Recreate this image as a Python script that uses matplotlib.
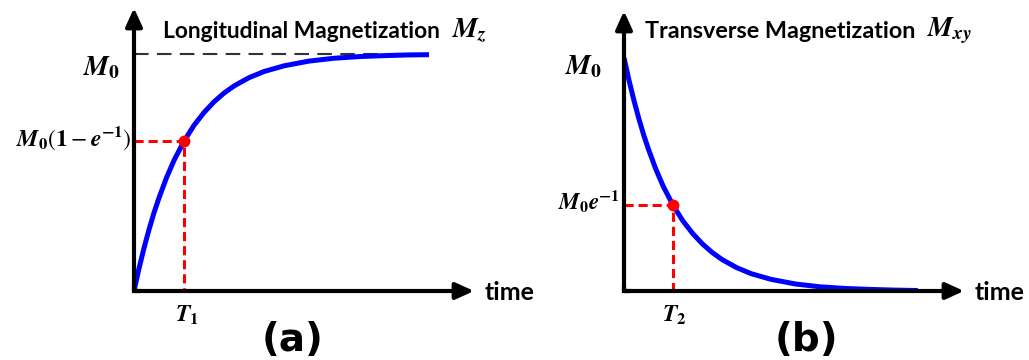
import matplotlib
matplotlib.use('Agg')
import matplotlib.pyplot as plt

plt.rcParams['mathtext.fontset'] = 'stix'
plt.rcParams['font.family'] = ['Lato', 'DejaVu Sans']

# sampled curves, time in units of T1 / T2, magnetization in units of M0
t_long = [0, 0.1, 0.2, 0.3, 0.4, 0.5, 0.65, 0.8, 1.0, 1.2, 1.4, 1.6, 1.8,
          2.0, 2.3, 2.6, 3.0, 3.5, 4.0, 4.5, 5.0, 5.5, 5.9]
m_long = [0, 0.095, 0.181, 0.259, 0.330, 0.393, 0.478, 0.551, 0.632, 0.699,
          0.753, 0.798, 0.835, 0.865, 0.900, 0.926, 0.950, 0.970, 0.982,
          0.989, 0.993, 0.996, 0.997]

t_trans = [0, 0.1, 0.2, 0.3, 0.4, 0.5, 0.65, 0.8, 1.0, 1.2, 1.4, 1.6, 1.8,
           2.0, 2.3, 2.6, 3.0, 3.5, 4.0, 4.5, 5.0, 5.5, 6.0]
m_trans = [1.0, 0.905, 0.819, 0.741, 0.670, 0.607, 0.522, 0.449, 0.368,
           0.301, 0.247, 0.202, 0.165, 0.135, 0.100, 0.074, 0.050, 0.030,
           0.018, 0.011, 0.007, 0.004, 0.002]

T1, M_T1 = 1.0, 0.632
T2, M_T2 = 1.0, 0.368
M0 = 1.0

W, H = 1029, 360
fig = plt.figure(figsize=(W / 100, H / 100), dpi=100)


def px_axes(x0, y0, x1, y1):
    # axes box given in pixels (left, top, right, bottom)
    return fig.add_axes([x0 / W, 1 - y1 / H, (x1 - x0) / W, (y1 - y0) / H])


def ftext(x, y, s, **kw):
    fig.text(x / W, 1 - y / H, s, **kw)


def pt(px):
    return px * 0.72


def draw_axes(ax):
    ax.set_axis_off()
    ax.plot([0, 0, 0.02], [0.02, 0, 0], transform=ax.transAxes, color='black',
            lw=3, solid_joinstyle='miter', solid_capstyle='butt', clip_on=False)
    style = '-|>,head_length=0.55,head_width=0.25'
    for tip in [(1, 0), (0, 1)]:
        ax.annotate('', xy=tip, xytext=(0, 0), xycoords='axes fraction',
                    textcoords='axes fraction', annotation_clip=False,
                    arrowprops=dict(arrowstyle=style, color='black', lw=3,
                                    mutation_scale=20, shrinkA=0, shrinkB=0))


def label(ax, xy, s, dx, dy, size, ha='right'):
    ax.annotate(s, xy=xy, xytext=(pt(dx), pt(dy)), textcoords='offset points',
                ha=ha, va='center', fontsize=size, annotation_clip=False)


# (a) longitudinal relaxation
ax1 = px_axes(134, 8, 474, 291)
ax1.set_xlim(0, 6.8)
ax1.set_ylim(0, 1.194)
draw_axes(ax1)
ax1.plot([0, t_long[-1]], [M0, M0], color='#333333', lw=1.5, dashes=(7, 4))
ax1.plot(t_long, m_long, color='#0000ff', lw=3.6, solid_capstyle='butt')
ax1.plot([0, T1, T1], [M_T1, M_T1, 0], color='#ff0000', lw=2.2, dashes=(3, 1.6))
ax1.plot([T1], [M_T1], 'o', color='#ff0000', ms=7.5)
label(ax1, (0, M0), r'$\mathbfit{M}_{\mathbf{0}}$', -14, -14, 20)
label(ax1, (0, M_T1),
      r'$\mathbfit{M}_{\mathbf{0}}\left(\mathbf{1}-\mathbfit{e}^{\mathbf{-1}}\right)$',
      -2, 3, 17)
label(ax1, (T1, 0), r'$\mathbfit{T}_{\mathbf{1}}$', 3, -24, 17, ha='center')

# (b) transverse relaxation
ax2 = px_axes(624, 11, 964, 291)
ax2.set_xlim(0, 6.94)
ax2.set_ylim(0, 1.20)
draw_axes(ax2)
ax2.plot(t_trans, m_trans, color='#0000ff', lw=3.6, solid_capstyle='butt')
ax2.plot([0, T2, T2], [M_T2, M_T2, 0], color='#ff0000', lw=2.2, dashes=(3, 1.6))
ax2.plot([T2], [M_T2], 'o', color='#ff0000', ms=7.5)
label(ax2, (0, M0), r'$\mathbfit{M}_{\mathbf{0}}$', -22, -9, 20)
label(ax2, (0, M_T2), r'$\mathbfit{M}_{\mathbf{0}}\mathbfit{e}^{\mathbf{-1}}$',
      -4, 3, 16.5)
label(ax2, (T2, 0), r'$\mathbfit{T}_{\mathbf{2}}$', 1, -24, 17, ha='center')

# titles: words in Lato, the symbol in larger math italics
ftext(163, 31, 'Longitudinal Magnetization', fontsize=16.4, fontweight='bold',
      va='center')
ftext(452, 31, r'$\mathbfit{M}_{\mathbfit{z}}$', fontsize=20, va='center')
ftext(645, 31, 'Transverse Magnetization', fontsize=16.8, fontweight='bold',
      va='center')
ftext(927, 31, r'$\mathbfit{M}_{\mathbfit{xy}}$', fontsize=20, va='center')

# axis names and panel letters
ftext(485, 293, 'time', fontsize=18, fontweight='bold', va='center')
ftext(975, 293, 'time', fontsize=18, fontweight='bold', va='center')
ftext(293, 340, '(a)', fontsize=28, fontweight='bold', ha='center', va='center',
      family='DejaVu Sans')
ftext(806, 340, '(b)', fontsize=28, fontweight='bold', ha='center', va='center',
      family='DejaVu Sans')

fig.savefig('out.png', dpi=100)
